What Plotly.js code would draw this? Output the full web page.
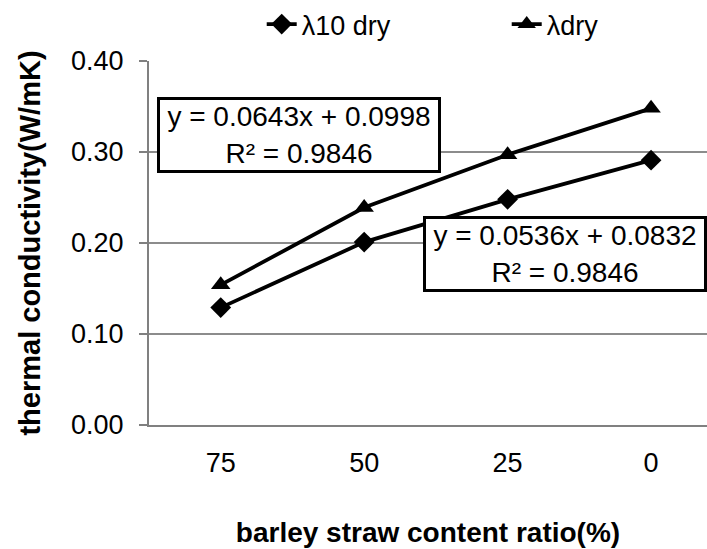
<!DOCTYPE html>
<html>
<head>
<meta charset="utf-8">
<script src="https://cdn.plot.ly/plotly-3.0.1.min.js"></script>
<style>html,body{margin:0;padding:0;background:#fff}#chart{width:707px;height:549px}</style>
</head>
<body>
<div id="chart"></div>
<script>
var categories = ["75", "50", "25", "0"];
var lambda10Dry = [0.129, 0.201, 0.248, 0.291];
var lambdaDry = [0.154, 0.239, 0.297, 0.348];
var seriesNames = ["λ10 dry", "λdry"];
var yTickVals = [0, 0.1, 0.2, 0.3, 0.4];
var yTickText = ["0.00", "0.10", "0.20", "0.30", "0.40"];
var eqText1 = "y = 0.0643x + 0.0998<br>R² = 0.9846";
var eqText2 = "y = 0.0536x + 0.0832<br>R² = 0.9846";

var font = "Liberation Sans, Arial, sans-serif";

var traces = [
  {x: categories, y: lambda10Dry, name: seriesNames[0], type: "scatter", mode: "lines+markers",
   legendwidth: 200,
   line: {color: "#000", width: 3.8}, marker: {symbol: "diamond", size: 16, color: "#000"}},
  {x: categories, y: lambdaDry, name: seriesNames[1], type: "scatter", mode: "lines+markers",
   legendwidth: 70,
   line: {color: "#000", width: 3.8}, marker: {symbol: "triangle-up", size: 17, color: "#000"}}
];

var layout = {
  width: 707, height: 549,
  margin: {l: 149, r: 0, t: 59, b: 124},
  paper_bgcolor: "#fff", plot_bgcolor: "#fff",
  font: {family: font, color: "#000", size: 27},
  showlegend: true,
  legend: {orientation: "h", x: 0.202, xanchor: "left", y: 1.101, yanchor: "middle",
           font: {family: font, size: 27, color: "#000"},
           bgcolor: "rgba(0,0,0,0)"},
  xaxis: {type: "category", range: [-0.5, 3.39], showgrid: false, zeroline: false,
          showline: true, linecolor: "#808080", linewidth: 2, ticks: "",
          ticklabelstandoff: 13, tickfont: {size: 27, family: font},
          title: {text: "<b>barley straw content ratio(%)</b>", font: {size: 28, family: font}, standoff: 45}},
  yaxis: {range: [0, 0.4], tickvals: yTickVals, ticktext: yTickText, showgrid: true,
          gridcolor: "#8c8c8c", gridwidth: 1.5, zeroline: false, showline: true,
          linecolor: "#808080", linewidth: 2, ticks: "outside", ticklen: 8, tickcolor: "#808080",
          tickwidth: 2, ticklabelstandoff: 10, tickfont: {size: 27, family: font},
          title: {text: "<b>thermal conductivity(W/mK)</b>", font: {size: 29, family: font}, standoff: 22}},
  annotations: [
    {xref: "paper", yref: "paper", x: 0.268, y: 0.796, xanchor: "center", yanchor: "middle",
     text: eqText1, showarrow: false, align: "center", font: {size: 28, family: font},
     bordercolor: "#000", borderwidth: 3, borderpad: 2, bgcolor: "#fff", width: 274, height: 66},
    {xref: "paper", yref: "paper", x: 0.746, y: 0.4686, xanchor: "center", yanchor: "middle",
     text: eqText2, showarrow: false, align: "center", font: {size: 28, family: font},
     bordercolor: "#000", borderwidth: 3, borderpad: 2, bgcolor: "#fff", width: 274, height: 66}
  ]
};

Plotly.newPlot("chart", traces, layout, {staticPlot: true, displayModeBar: false});
</script>
</body>
</html>
